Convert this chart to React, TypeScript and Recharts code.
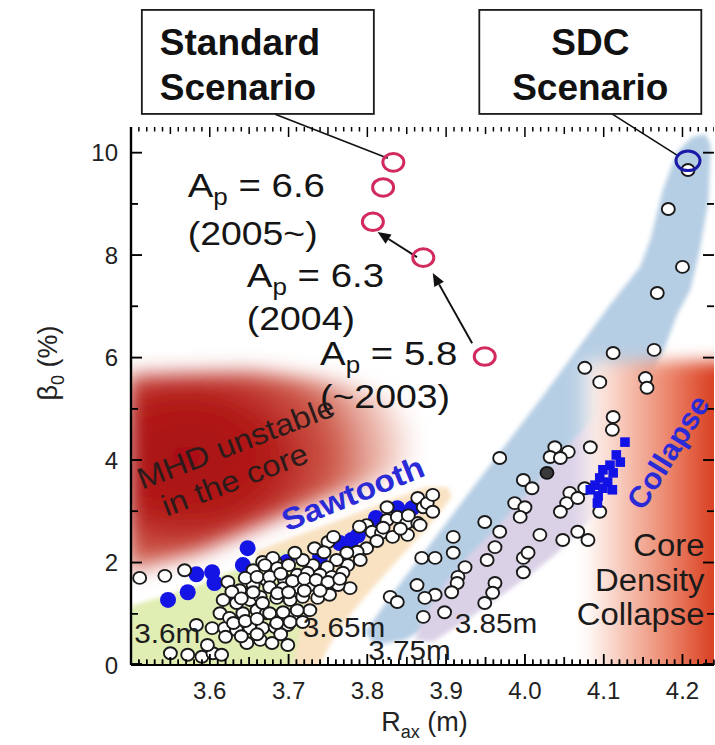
import React from 'react';
import { ScatterChart, Scatter, XAxis, YAxis, ReferenceDot, ReferenceLine, Label } from 'recharts';

const FONT = '"Liberation Sans", Arial, Helvetica, sans-serif';

// ---------- axis ticks ----------
const xTicks: number[] = Array.from({ length: 75 }, (_, i) => (350 + i) / 100);
const xMajorValues = [3.6, 3.7, 3.8, 3.9, 4.0, 4.1, 4.2];
const xMajorLabels = ['3.6', '3.7', '3.8', '3.9', '4.0', '4.1', '4.2'];
const yTicks = [0, 1, 2, 3, 4, 5, 6, 7, 8, 9, 10];
const yLabelValues = [0, 2, 4, 6, 8, 10];
const yLabelTexts = ['0', '2', '4', '6', '8', '10'];

// ---------- series (R_ax [m], beta0 [%]) ----------
const standardScenario: [number, number][] = [
  [3.833, 9.81], [3.82, 9.32], [3.807, 8.65], [3.871, 7.95], [3.949, 6.02],
];
const sdcScenario: [number, number][] = [[4.207, 9.84]];

const sawtoothShots: [number, number][] = [
  [3.547, 1.27], [3.572, 1.42], [3.583, 1.77], [3.603, 1.81], [3.606, 1.6], [3.629, 1.36],
  [3.642, 1.95], [3.648, 2.28], [3.698, 2.01], [3.74, 2.12], [3.765, 2.38], [3.78, 2.44],
  [3.788, 2.53], [3.811, 2.87], [3.838, 3.06], [3.857, 3.06],
];

const collapseShots: [number, number][] = [
  [4.127, 4.35], [4.116, 4.1], [4.121, 3.96], [4.108, 3.9], [4.099, 3.81], [4.112, 3.75],
  [4.095, 3.65], [4.105, 3.57], [4.089, 3.51], [4.099, 3.45], [4.111, 3.42], [4.083, 3.42],
  [4.093, 3.3], [4.092, 3.16],
];

const allShots: [number, number][] = [
  // R_ax ~ 3.6 m
  [3.511, 1.7], [3.543, 1.74], [3.568, 1.85],
  [3.583, 0.78], [3.603, 0.72], [3.619, 0.72], [3.634, 0.68], [3.651, 0.72], [3.667, 0.72], [3.683, 0.74], [3.699, 0.78],
  [3.613, 1.01], [3.625, 0.92], [3.642, 1.01], [3.66, 1.07], [3.672, 1.01],
  [3.617, 1.27], [3.634, 1.21], [3.651, 1.27], [3.664, 1.33],
  [3.623, 1.62], [3.655, 1.85], [3.667, 2.01], [3.683, 2.01], [3.672, 1.66], [3.655, 1.56], [3.638, 1.46],
  [3.647, 0.43], [3.664, 0.49], [3.679, 0.43], [3.699, 0.39],
  [3.55, 0.23], [3.572, 0.2], [3.59, 0.16], [3.604, 0.23], [3.597, 0.39], [3.615, 0.2],
  [3.645, 1.7], [3.66, 1.72], [3.628, 1.43], [3.64, 1.3], [3.655, 1.42],
  [3.63, 0.82], [3.645, 0.86], [3.66, 0.9], [3.69, 0.92], [3.705, 0.97],
  [3.62, 0.55], [3.64, 0.56], [3.66, 0.6], [3.69, 0.6],
  // R_ax ~ 3.65 m
  [3.825, 3.08], [3.864, 3.26], [3.871, 3.08], [3.825, 2.83], [3.838, 2.89], [3.85, 2.77], [3.864, 2.77],
  [3.799, 2.73], [3.806, 2.6], [3.818, 2.58], [3.832, 2.5], [3.851, 2.54],
  [3.75, 2.4], [3.799, 2.28], [3.787, 2.21], [3.774, 2.19], [3.791, 2.05], [3.775, 1.95], [3.761, 2.05],
  [3.749, 1.91], [3.731, 1.95], [3.718, 2.05],
  [3.68, 2.09], [3.67, 1.95], [3.686, 1.89], [3.676, 1.72], [3.695, 1.66], [3.711, 1.76], [3.724, 1.8],
  [3.74, 1.76], [3.755, 1.72], [3.769, 1.8],
  [3.778, 1.5], [3.763, 1.56], [3.746, 1.56], [3.727, 1.56], [3.711, 1.52], [3.693, 1.5], [3.676, 1.52],
  [3.667, 1.21], [3.685, 1.31], [3.702, 1.27], [3.718, 1.33], [3.737, 1.31], [3.752, 1.37],
  [3.727, 1.07], [3.711, 1.07], [3.693, 1.03], [3.676, 1.01],
  [3.702, 0.84], [3.685, 0.82], [3.718, 0.84],
  [3.876, 3.16], [3.883, 2.99], [3.867, 2.73], [3.883, 3.32], [3.733, 2.28], [3.708, 2.19],
  [3.745, 2.2], [3.812, 2.42], [3.842, 2.66], [3.7, 1.95],
  [3.757, 2.5], [3.79, 2.7], [3.852, 2.92], [3.82, 2.68], [3.69, 1.78], [3.705, 1.64], [3.72, 1.68],
  [3.735, 1.66], [3.75, 1.62], [3.765, 1.68], [3.686, 1.4], [3.7, 1.42], [3.72, 1.45], [3.74, 1.45],
  // R_ax ~ 3.75 m
  [3.869, 2.09], [3.863, 1.56], [3.829, 1.33], [3.838, 1.23], [3.871, 0.94],
  [3.968, 4.04], [3.998, 3.61], [3.987, 3.16], [4.0, 3.08], [3.994, 2.89], [3.949, 2.79], [3.968, 2.6],
  [3.909, 2.5], [3.962, 2.3], [3.909, 2.19], [3.952, 2.05], [3.998, 2.09], [3.998, 1.81],
  [3.886, 2.09], [3.924, 1.91], [3.915, 1.72], [3.914, 1.6], [3.907, 1.42], [3.886, 1.37], [3.873, 1.31],
  [3.962, 1.6], [3.959, 1.41], [3.949, 1.21], [3.898, 1.03],
  // R_ax ~ 3.85 m and beyond
  [4.112, 6.09], [4.076, 5.8], [4.095, 5.52], [4.153, 5.6], [4.155, 5.41], [4.112, 4.84], [4.111, 4.59],
  [4.083, 4.25], [4.038, 4.25], [4.055, 4.16], [4.032, 4.06], [4.045, 4.04],
  [4.009, 3.45], [4.076, 3.45], [4.057, 3.36], [4.053, 3.16], [4.067, 3.26], [4.045, 2.99], [4.095, 2.99],
  [4.019, 2.54], [4.048, 2.44], [4.067, 2.6], [4.08, 2.44], [4.004, 2.19],
  [4.207, 9.66], [4.182, 8.9], [4.2, 7.77], [4.168, 7.26], [4.164, 6.15],
];
const darkShots: [number, number][] = [[4.028, 3.75]];

// ---------- shaded regions (polygon vertices in data units) ----------
const mhdRegion: [number, number][] = [
  [3.496, 5.65], [3.651, 5.72], [3.752, 5.55], [3.829, 5.2], [3.867, 4.62], [3.86, 4.0],
  [3.816, 3.61], [3.74, 3.22], [3.664, 2.73], [3.587, 2.21], [3.524, 1.95], [3.496, 1.76],
];
const region36: [number, number][] = [
  [3.5, 1.15], [3.575, 1.5], [3.638, 1.89], [3.689, 2.21], [3.714, 2.28], [3.727, 1.95],
  [3.721, 1.27], [3.712, 0.49], [3.704, -0.1], [3.49, -0.1],
];
const region365: [number, number][] = [
  [3.657, 2.21], [3.714, 2.54], [3.771, 2.87], [3.829, 3.22], [3.873, 3.47], [3.902, 3.47],
  [3.907, 3.28], [3.879, 2.73], [3.841, 2.09], [3.81, 1.56], [3.778, 0.98], [3.752, 0.39],
  [3.737, -0.1], [3.708, -0.1],
];
const region375: [number, number][] = [
  [3.797, 0.64], [3.835, 1.46], [3.879, 2.34], [3.93, 3.38], [3.975, 4.29], [4.019, 5.17],
  [4.064, 6.11], [4.108, 7.03], [4.146, 7.77], [4.159, 8.29], [4.175, 9.27], [4.193, 10.01],
  [4.212, 10.3], [4.229, 10.36], [4.236, 10.15], [4.233, 9.07], [4.222, 8.1], [4.21, 7.32],
  [4.193, 6.83], [4.175, 6.09], [4.146, 5.33], [4.095, 4.39], [4.045, 3.42], [3.994, 2.44],
  [3.943, 1.56], [3.892, 0.88], [3.848, 0.49], [3.81, 0.39],
];
const region385: [number, number][] = [
  [3.86, 0.49], [3.873, 0.98], [3.898, 1.56], [3.93, 2.15], [3.965, 2.69], [3.998, 3.28],
  [4.032, 3.86], [4.061, 4.39], [4.095, 4.94], [4.121, 5.17], [4.141, 5.17], [4.146, 4.94],
  [4.13, 4.59], [4.108, 3.61], [4.092, 2.97], [4.07, 2.63], [4.041, 2.19], [4.01, 1.8],
  [3.968, 1.33], [3.926, 0.88], [3.883, 0.45],
];
const collapseRegion: [number, number][] = [
  [4.067, 5.93], [4.27, 5.93], [4.27, -0.3], [4.067, -0.3],
];

// ---------- text labels ----------
const apValues = ['6.6', '6.3', '5.8'];
const apYears = ['(2005~)', '(2004)', '(~2003)'];
const apAnchors: [number, number][] = [[3.572, 9.13], [3.647, 7.38], [3.74, 5.86]];
const yearAnchors: [number, number][] = [[3.572, 8.2], [3.647, 6.54], [3.74, 5.02]];
const radiusLabels = ['3.6m', '3.65m', '3.75m', '3.85m'];
const radiusAnchors: [number, number][] = [[3.504, 0.43], [3.718, 0.55], [3.801, 0.1], [3.911, 0.62]];
const collapseLines = ['Core', 'Density', 'Collapse'];
const collapseLineAnchors: [number, number][] = [[4.228, 2.13], [4.228, 1.44], [4.228, 0.78]];

const toPts = (arr: [number, number][]) => arr.map(([x, y]) => ({ x, y }));

// tick marks on the frame (lengths in px); anchors sit a hair inside the frame
const xTickLen = (v: number) => {
  const k = Math.round(v * 100);
  return k % 10 === 0 ? 10 : k % 5 === 0 ? 7 : 4.5;
};
const yTickLen = (v: number) => (v % 2 === 0 ? 10 : 6);
const Y_IN = 0.02;
const X_IN = 0.0013;
const bottomTickPts = xTicks.map((v) => ({ x: v, y: Y_IN, len: xTickLen(v) }));
const topTickPts = xTicks.map((v) => ({ x: v, y: 10.5, len: xTickLen(v) }));
const leftTickPts = yTicks.map((v) => ({ x: 3.5 + X_IN, y: v === 0 ? Y_IN : v, len: yTickLen(v) }));
const rightTickPts = yTicks.map((v) => ({ x: 4.24 - X_IN, y: v === 0 ? Y_IN : v, len: yTickLen(v) }));

// ---------- shapes ----------
const noShape = () => <g />;
const regionLine = (fill: string, filterId?: string) => (lp: any) => {
  const pts: { x: number; y: number }[] = (lp && lp.points) || [];
  if (!pts.length) return <g />;
  const d = pts.map((q, i) => `${i === 0 ? 'M' : 'L'}${q.x},${q.y}`).join(' ') + ' Z';
  return <path d={d} fill={fill} stroke="none" filter={filterId ? `url(#${filterId})` : undefined} />;
};
const WhiteShape = (p: any) => (
  <ellipse cx={p.cx} cy={p.cy} rx={6.5} ry={6} fill="#ffffff" stroke="#1a1a1a" strokeWidth={1.9} />
);
const DarkShape = (p: any) => (
  <ellipse cx={p.cx} cy={p.cy} rx={6.5} ry={6} fill="#3a3a3a" stroke="#111" strokeWidth={1.9} />
);
const BlueDotShape = (p: any) => <circle cx={p.cx} cy={p.cy} r={8} fill="#1414e4" />;
const SquareShape = (p: any) => <rect x={p.cx - 4.8} y={p.cy - 4.8} width={9.6} height={9.6} fill="#1212e6" />;
const PinkShape = (p: any) => (
  <ellipse cx={p.cx} cy={p.cy} rx={10.5} ry={8.8} fill="none" stroke="#d22a5e" strokeWidth={3} />
);
const SdcShape = (p: any) => (
  <ellipse cx={p.cx} cy={p.cy} rx={12} ry={9.8} fill="none" stroke="#1a1aa6" strokeWidth={3} />
);
const tickLenOf = (p: any) => (p.payload && p.payload.len) || (p.len as number) || 5;
const BottomTickMark = (p: any) => (
  <line x1={p.cx} y1={p.cy + 1} x2={p.cx} y2={p.cy - tickLenOf(p)} stroke="#000" strokeWidth={1.5} />
);
const TopTickMark = (p: any) => (
  <line x1={p.cx} y1={p.cy} x2={p.cx} y2={p.cy + tickLenOf(p)} stroke="#000" strokeWidth={1.5} />
);
const LeftTickMark = (p: any) => (
  <line x1={p.cx - 1} y1={p.cy} x2={p.cx + tickLenOf(p)} y2={p.cy} stroke="#000" strokeWidth={1.5} />
);
const RightTickMark = (p: any) => (
  <line x1={p.cx + 1} y1={p.cy} x2={p.cx - tickLenOf(p)} y2={p.cy} stroke="#000" strokeWidth={1.5} />
);
const dotTick = (len: number, dir: 'up' | 'right' | 'left') => (p: any) => {
  if (dir === 'up') return <line x1={p.cx} y1={p.cy + 1} x2={p.cx} y2={p.cy - len} stroke="#000" strokeWidth={1.5} />;
  if (dir === 'right') return <line x1={p.cx - 1} y1={p.cy} x2={p.cx + len} y2={p.cy} stroke="#000" strokeWidth={1.5} />;
  return <line x1={p.cx + 1} y1={p.cy} x2={p.cx - len} y2={p.cy} stroke="#000" strokeWidth={1.5} />;
};

const ArrowShape = (p: any) => {
  const { x1, y1, x2, y2 } = p;
  const dx = x2 - x1;
  const dy = y2 - y1;
  const L = Math.sqrt(dx * dx + dy * dy) || 1;
  const ux = dx / L;
  const uy = dy / L;
  const hl = 13;
  const hw = 5.5;
  const bx = x2 - ux * hl;
  const by = y2 - uy * hl;
  return (
    <g>
      <line x1={x1} y1={y1} x2={bx} y2={by} stroke="#111" strokeWidth={2} />
      <polygon points={`${x2},${y2} ${bx - uy * hw},${by + ux * hw} ${bx + uy * hw},${by - ux * hw}`} fill="#111" />
    </g>
  );
};
const LeaderShape = (p: any) => <line x1={p.x1} y1={p.y1} x2={p.x2} y2={p.y2} stroke="#111" strokeWidth={1.6} />;

const near = (a: number, b: number) => Math.abs(a - b) < 1e-6;
const BottomTick = (p: any) => {
  const v = p.payload.value;
  const i = xMajorValues.findIndex((t) => near(t, v));
  if (i < 0) return <g />;
  return (
    <text x={p.x} y={p.y + 34} textAnchor="middle" fontSize={24} fill="#222" fontFamily={FONT}>
      {xMajorLabels[i]}
    </text>
  );
};
const LeftTick = (p: any) => {
  const v = p.payload.value;
  const i = yLabelValues.findIndex((t) => near(t, v));
  if (i < 0) return <g />;
  return (
    <text x={p.x - 13} y={p.y + 8.5} textAnchor="end" fontSize={24} fill="#222" fontFamily={FONT}>
      {yLabelTexts[i]}
    </text>
  );
};

const XTitle = (props: any) => {
  const vb = props.viewBox || { x: 131, y: 665, width: 583, height: 60 };
  const cx = vb.x + vb.width / 2 + 2;
  const y = vb.y + 66;
  return (
    <text x={cx} y={y} textAnchor="middle" fontSize={27} fill="#222" fontFamily={FONT}>
      R<tspan fontSize={18} dy={7}>ax</tspan>
      <tspan dy={-7}> (m)</tspan>
    </text>
  );
};
const YTitle = (props: any) => {
  const vb = props.viewBox || { x: 71, y: 127, width: 60, height: 538 };
  const x = vb.x - 14;
  const y = vb.y + 236;
  return (
    <text transform={`translate(${x},${y}) rotate(-90)`} textAnchor="middle" fontSize={27} fill="#222" fontFamily={FONT}>
      β<tspan fontSize={18} dy={7}>0</tspan>
      <tspan dy={-7}> (%)</tspan>
    </text>
  );
};

const tf = (cx: number, cy: number, rotate: number, sx: number) =>
  `translate(${cx},${cy})${rotate ? ` rotate(${rotate})` : ''} scale(${sx},1)`;

const ApShape = (value: string) => (p: any) => (
  <text transform={tf(p.cx, p.cy, 0, 1.13)} x={0} y={0} fontSize={34} fill="#151515" fontFamily={FONT}>
    A<tspan fontSize={23} dy={8}>p</tspan>
    <tspan dy={-8}>{` = ${value}`}</tspan>
  </text>
);
const SText = (txt: string, size: number, opts: any = {}) => (p: any) => (
  <text
    transform={tf(p.cx, p.cy, opts.rotate || 0, opts.sx || 1)}
    x={0}
    y={0}
    fontSize={size}
    fill={opts.fill || '#151515'}
    fontWeight={opts.bold ? 'bold' : 'normal'}
    textAnchor={opts.anchor || 'start'}
    fontFamily={FONT}
  >
    {txt}
  </text>
);
const MhdShape = (p: any) => (
  <g transform={tf(p.cx, p.cy, -21, 1.1)}>
    <text x={0} y={0} fontSize={30} fill="#2b1b1b" fontFamily={FONT}>MHD unstable</text>
    <text x={12} y={34} fontSize={30} fill="#2b1b1b" fontFamily={FONT}>in the core</text>
  </g>
);
const BoxShape = (lines: string[], w: number, h: number, centered: boolean) => (p: any) => (
  <g>
    <rect x={p.cx - w / 2} y={p.cy - h / 2} width={w} height={h} fill="#ffffff" stroke="#1a1a1a" strokeWidth={1.8} />
    {lines.map((ln, i) => (
      <text
        key={i}
        x={centered ? p.cx : p.cx - w / 2 + 18}
        y={p.cy - 7 + i * 45}
        textAnchor={centered ? 'middle' : 'start'}
        fontSize={37}
        fontWeight="bold"
        fill="#111"
        fontFamily={FONT}
      >
        {ln}
      </text>
    ))}
  </g>
);

const AX = { xAxisId: 'b', yAxisId: 'l' } as const;

export default function App() {
  return (
    <div style={{ position: 'absolute', left: 0, top: 0, width: 715, height: 745, background: '#ffffff' }}>
      <ScatterChart width={715} height={745} margin={{ top: 127, right: 1, bottom: 20, left: 71 }}>
        <defs>
          <filter id="blur10" x="-30%" y="-30%" width="160%" height="160%">
            <feGaussianBlur stdDeviation="10" />
          </filter>
          <filter id="blur8" x="-30%" y="-30%" width="160%" height="160%">
            <feGaussianBlur stdDeviation="8" />
          </filter>
          <filter id="blur2" x="-10%" y="-10%" width="120%" height="120%">
            <feGaussianBlur stdDeviation="2" />
          </filter>
          <radialGradient id="mhdGrad" cx="0.2" cy="0.42" r="0.85">
            <stop offset="0" stopColor="#a70f10" />
            <stop offset="0.35" stopColor="#b41c1a" />
            <stop offset="0.6" stopColor="#cc5444" stopOpacity="0.95" />
            <stop offset="0.82" stopColor="#eab0a2" stopOpacity="0.7" />
            <stop offset="1" stopColor="#ffffff" stopOpacity="0" />
          </radialGradient>
          <linearGradient id="collapseGrad" x1="0" y1="0" x2="1" y2="0">
            <stop offset="0" stopColor="#ffffff" stopOpacity="0" />
            <stop offset="0.1" stopColor="#fdf0ea" />
            <stop offset="0.3" stopColor="#f6c2b2" />
            <stop offset="0.55" stopColor="#ec8a70" />
            <stop offset="0.8" stopColor="#dd4a2c" />
            <stop offset="1" stopColor="#cf2a12" />
          </linearGradient>
        </defs>

        {/* shaded regions */}
        <Scatter {...AX} data={toPts(region365)} shape={noShape} line={regionLine('#f9e2c2', 'blur2')} lineType="joint" isAnimationActive={false} zIndex={50} />
        <Scatter {...AX} data={toPts(region36)} shape={noShape} line={regionLine('#e0edb3', 'blur2')} lineType="joint" isAnimationActive={false} zIndex={50} />
        <Scatter {...AX} data={toPts(region375)} shape={noShape} line={regionLine('#b6cee4', 'blur2')} lineType="joint" isAnimationActive={false} zIndex={50} />
        <Scatter {...AX} data={toPts(region385)} shape={noShape} line={regionLine('#dad1e7', 'blur2')} lineType="joint" isAnimationActive={false} zIndex={50} />
        <Scatter {...AX} data={toPts(collapseRegion)} shape={noShape} line={regionLine('url(#collapseGrad)', 'blur8')} lineType="joint" isAnimationActive={false} zIndex={50} />
        <Scatter {...AX} data={toPts(mhdRegion)} shape={noShape} line={regionLine('url(#mhdGrad)', 'blur10')} lineType="joint" isAnimationActive={false} zIndex={50} />

        {/* data */}
        <Scatter {...AX} data={toPts(sawtoothShots)} shape={BlueDotShape} isAnimationActive={false} />
        <Scatter {...AX} data={toPts(allShots)} shape={WhiteShape} isAnimationActive={false} />
        <Scatter {...AX} data={toPts(darkShots)} shape={DarkShape} isAnimationActive={false} />
        <Scatter {...AX} data={toPts(collapseShots)} shape={SquareShape} isAnimationActive={false} />
        <Scatter {...AX} data={toPts(standardScenario)} shape={PinkShape} isAnimationActive={false} />
        <Scatter {...AX} data={toPts(sdcScenario)} shape={SdcShape} isAnimationActive={false} />

        {/* inward tick marks on the frame */}
        <Scatter {...AX} data={bottomTickPts} shape={BottomTickMark} isAnimationActive={false} />
        <Scatter {...AX} data={topTickPts} shape={TopTickMark} isAnimationActive={false} />
        <Scatter {...AX} data={leftTickPts} shape={LeftTickMark} isAnimationActive={false} />
        <Scatter {...AX} data={rightTickPts} shape={RightTickMark} isAnimationActive={false} />
        {bottomTickPts.map((t) => (
          <ReferenceDot key={'db' + t.x} {...AX} x={t.x} y={t.y} ifOverflow="visible" shape={dotTick(t.len, 'up')} />
        ))}
        {leftTickPts.map((t) => (
          <ReferenceDot key={'dl' + t.y} {...AX} x={t.x} y={t.y} ifOverflow="visible" shape={dotTick(t.len, 'right')} />
        ))}
        {rightTickPts.map((t) => (
          <ReferenceDot key={'dr' + t.y} {...AX} x={t.x} y={t.y} ifOverflow="visible" shape={dotTick(t.len, 'left')} />
        ))}

        {/* arrows & leader lines */}
        <ReferenceLine {...AX} segment={[{ x: 3.933, y: 6.28 }, { x: 3.883, y: 7.65 }]} ifOverflow="visible" shape={ArrowShape} />
        <ReferenceLine {...AX} segment={[{ x: 3.863, y: 7.96 }, { x: 3.813, y: 8.45 }]} ifOverflow="visible" shape={ArrowShape} />
        <ReferenceLine {...AX} segment={[{ x: 3.683, y: 10.75 }, { x: 3.826, y: 9.89 }]} ifOverflow="visible" shape={LeaderShape} />
        <ReferenceLine {...AX} segment={[{ x: 4.111, y: 10.75 }, { x: 4.193, y: 9.95 }]} ifOverflow="visible" shape={LeaderShape} />

        {/* annotation boxes */}
        <ReferenceDot {...AX} x={3.661} y={11.77} ifOverflow="visible" shape={BoxShape(['Standard', 'Scenario'], 232, 104, false)} />
        <ReferenceDot {...AX} x={4.083} y={11.77} ifOverflow="visible" shape={BoxShape(['SDC', 'Scenario'], 222, 104, true)} />

        {/* text annotations */}
        {apValues.map((v, i) => (
          <ReferenceDot key={'ap' + i} {...AX} x={apAnchors[i][0]} y={apAnchors[i][1]} ifOverflow="visible" shape={ApShape(v)} />
        ))}
        {apYears.map((v, i) => (
          <ReferenceDot key={'yr' + i} {...AX} x={yearAnchors[i][0]} y={yearAnchors[i][1]} ifOverflow="visible" shape={SText(v, 34, { sx: 1.1 })} />
        ))}
        {radiusLabels.map((v, i) => (
          <ReferenceDot key={'rl' + i} {...AX} x={radiusAnchors[i][0]} y={radiusAnchors[i][1]} ifOverflow="visible" shape={SText(v, 27, { fill: '#1d1d1d', sx: 1.1 })} />
        ))}
        {collapseLines.map((v, i) => (
          <ReferenceDot key={'cl' + i} {...AX} x={collapseLineAnchors[i][0]} y={collapseLineAnchors[i][1]} ifOverflow="visible" shape={SText(v, 31, { anchor: 'end', fill: '#1a1a1a', sx: 1.06 })} />
        ))}
        <ReferenceDot {...AX} x={3.514} y={3.42} ifOverflow="visible" shape={MhdShape} />
        <ReferenceDot {...AX} x={3.698} y={2.6} ifOverflow="visible" shape={SText('Sawtooth', 31, { bold: true, fill: '#2a2ad6', rotate: -22, sx: 1.08 })} />
        <ReferenceDot {...AX} x={4.15} y={2.99} ifOverflow="visible" shape={SText('Collapse', 30, { bold: true, fill: '#2a2ad6', rotate: -58, sx: 1.02 })} />

        {/* axes */}
        <XAxis
          xAxisId="b"
          type="number"
          dataKey="x"
          orientation="bottom"
          domain={[3.5, 4.24]}
          allowDataOverflow
          ticks={xMajorValues}
          interval={0}
          height={60}
          tickSize={0}
          tickMargin={0}
          tickLine={false}
          axisLine={{ stroke: '#000', strokeWidth: 2.2 }}
          tick={(p: any) => <BottomTick {...p} />}
        >
          <Label content={XTitle} />
        </XAxis>
        <XAxis
          xAxisId="t"
          type="number"
          dataKey="x"
          orientation="top"
          domain={[3.5, 4.24]}
          allowDataOverflow
          ticks={xMajorValues}
          height={0}
          tick={false}
          tickLine={false}
          axisLine={{ stroke: '#000', strokeWidth: 2.2 }}
        />
        <YAxis
          yAxisId="l"
          type="number"
          dataKey="y"
          orientation="left"
          domain={[0, 10.5]}
          allowDataOverflow
          ticks={yTicks}
          interval={0}
          width={60}
          tickSize={0}
          tickMargin={0}
          tickLine={false}
          axisLine={{ stroke: '#000', strokeWidth: 2.4 }}
          tick={(p: any) => <LeftTick {...p} />}
        >
          <Label content={YTitle} />
        </YAxis>
        <YAxis
          yAxisId="r"
          type="number"
          dataKey="y"
          orientation="right"
          domain={[0, 10.5]}
          allowDataOverflow
          ticks={yTicks}
          width={0}
          tick={false}
          tickLine={false}
          axisLine={{ stroke: '#000', strokeWidth: 2.4 }}
        />
      </ScatterChart>
    </div>
  );
}
